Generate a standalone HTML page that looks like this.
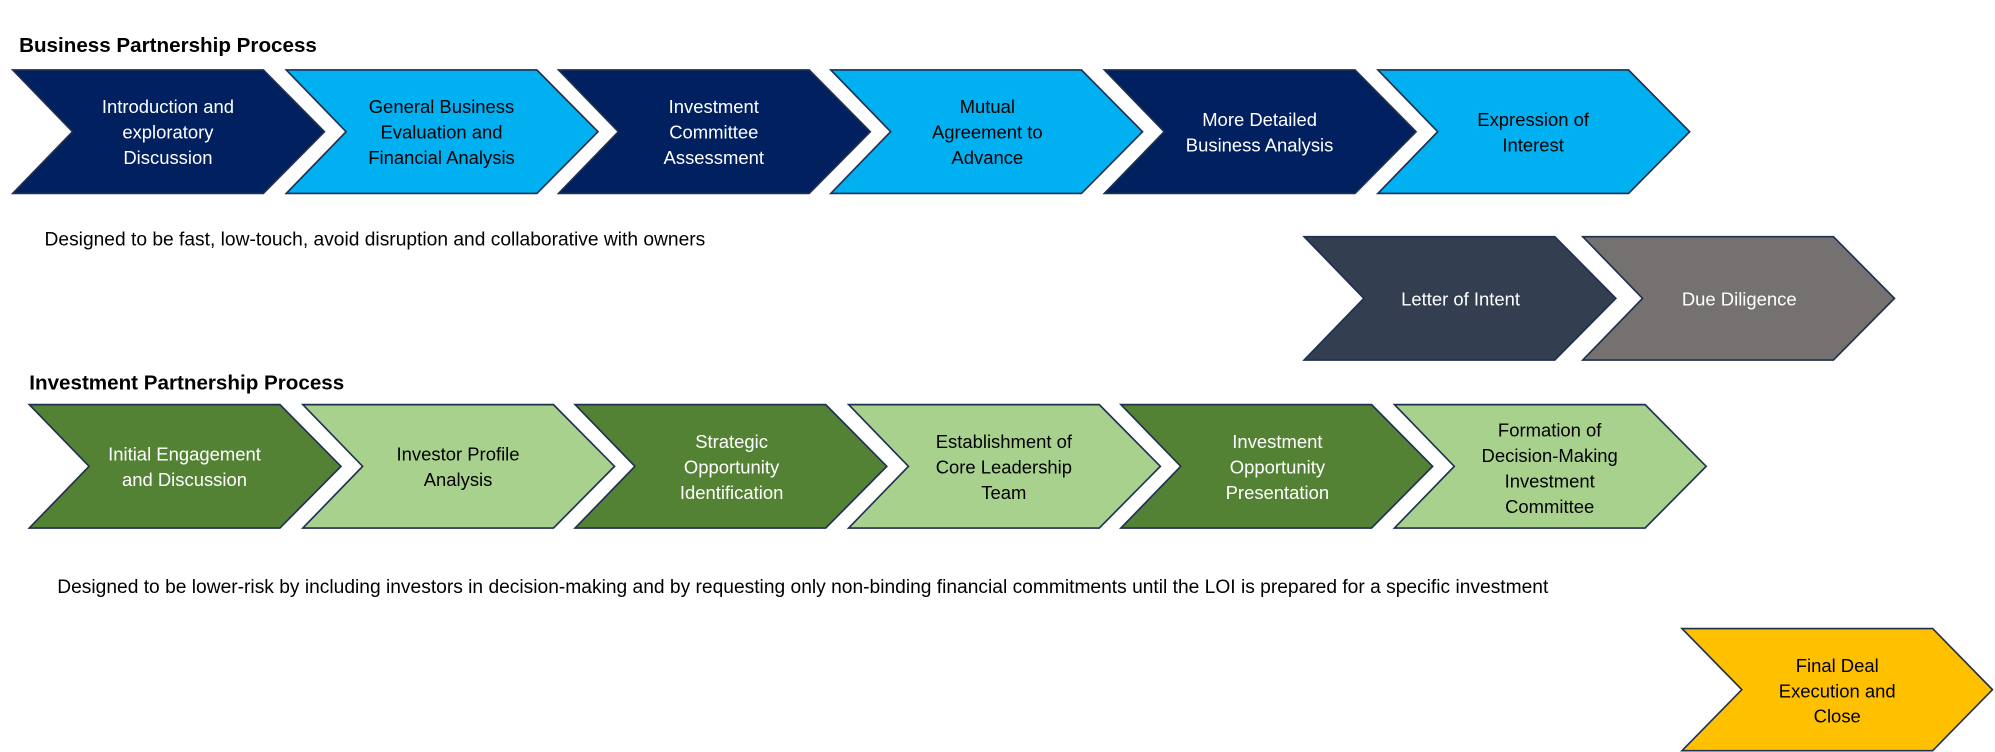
<!DOCTYPE html>
<html><head><meta charset="utf-8"><style>
html,body{margin:0;padding:0;background:#fff;}
svg{display:block;}
text{font-family:"Liberation Sans Narrow","Liberation Sans",sans-serif;font-size:14.5px;text-anchor:middle;}
.w{fill:#fff}.k{fill:#000}
.t{font-family:"Liberation Sans",sans-serif;font-weight:bold;font-size:16.2px;text-anchor:start;}
.c{font-family:"Liberation Sans Narrow","Liberation Sans",sans-serif;font-size:15.1px;text-anchor:start;}
</style></head><body>
<svg width="1995" height="752" viewBox="0 0 1568 591" preserveAspectRatio="none" xmlns="http://www.w3.org/2000/svg">
<defs>
<path id="ch" d="M0,0 H197 L245,48.5 L197,97 H0 L47,48.5 Z" stroke="#1F3050" stroke-width="1.3"/>
</defs>
<text class="t" x="15" y="41">Business Partnership Process</text>
<g>
<use href="#ch" x="10" y="55" fill="#002060"/>
<use href="#ch" x="225" y="55" fill="#00B0F0"/>
<use href="#ch" x="439" y="55" fill="#002060"/>
<use href="#ch" x="653" y="55" fill="#00B0F0"/>
<use href="#ch" x="868" y="55" fill="#002060"/>
<use href="#ch" x="1083" y="55" fill="#00B0F0"/>
</g>
<text class="w" x="132" y="89">Introduction and</text><text class="w" x="132" y="109">exploratory</text><text class="w" x="132" y="129">Discussion</text>
<text class="k" x="347" y="89">General Business</text><text class="k" x="347" y="109">Evaluation and</text><text class="k" x="347" y="129">Financial Analysis</text>
<text class="w" x="561" y="89">Investment</text><text class="w" x="561" y="109">Committee</text><text class="w" x="561" y="129">Assessment</text>
<text class="k" x="776" y="89">Mutual</text><text class="k" x="776" y="109">Agreement to</text><text class="k" x="776" y="129">Advance</text>
<text class="w" x="990" y="99">More Detailed</text><text class="w" x="990" y="119">Business Analysis</text>
<text class="k" x="1205" y="99">Expression of</text><text class="k" x="1205" y="119">Interest</text>

<text class="c" x="35" y="193">Designed to be fast, low-touch, avoid disruption and collaborative with owners</text>

<use href="#ch" x="1025" y="186" fill="#333F50"/>
<use href="#ch" x="1244" y="186" fill="#767171"/>
<text class="w" x="1148" y="240">Letter of Intent</text>
<text class="w" x="1367" y="240">Due Diligence</text>

<text class="t" x="23" y="306">Investment Partnership Process</text>
<use href="#ch" x="23" y="318" fill="#548235"/>
<use href="#ch" x="238" y="318" fill="#A9D18E"/>
<use href="#ch" x="452" y="318" fill="#548235"/>
<use href="#ch" x="667" y="318" fill="#A9D18E"/>
<use href="#ch" x="881" y="318" fill="#548235"/>
<use href="#ch" x="1096" y="318" fill="#A9D18E"/>
<text class="w" x="145" y="362">Initial Engagement</text><text class="w" x="145" y="382">and Discussion</text>
<text class="k" x="360" y="362">Investor Profile</text><text class="k" x="360" y="382">Analysis</text>
<text class="w" x="575" y="352">Strategic</text><text class="w" x="575" y="372">Opportunity</text><text class="w" x="575" y="392">Identification</text>
<text class="k" x="789" y="352">Establishment of</text><text class="k" x="789" y="372">Core Leadership</text><text class="k" x="789" y="392">Team</text>
<text class="w" x="1004" y="352">Investment</text><text class="w" x="1004" y="372">Opportunity</text><text class="w" x="1004" y="392">Presentation</text>
<text class="k" x="1218" y="343">Formation of</text><text class="k" x="1218" y="363">Decision-Making</text><text class="k" x="1218" y="383">Investment</text><text class="k" x="1218" y="403">Committee</text>

<text class="c" x="45" y="466">Designed to be lower-risk by including investors in decision-making and by requesting only non-binding financial commitments until the LOI is prepared for a specific investment</text>

<path d="M1322,494 H1519 L1566,542 L1519,590 H1322 L1369,542 Z" fill="#FFC000" stroke="#1F3050" stroke-width="1.3"/>
<text class="k" x="1444" y="528">Final Deal</text><text class="k" x="1444" y="548">Execution and</text><text class="k" x="1444" y="568">Close</text>
</svg>
</body></html>
